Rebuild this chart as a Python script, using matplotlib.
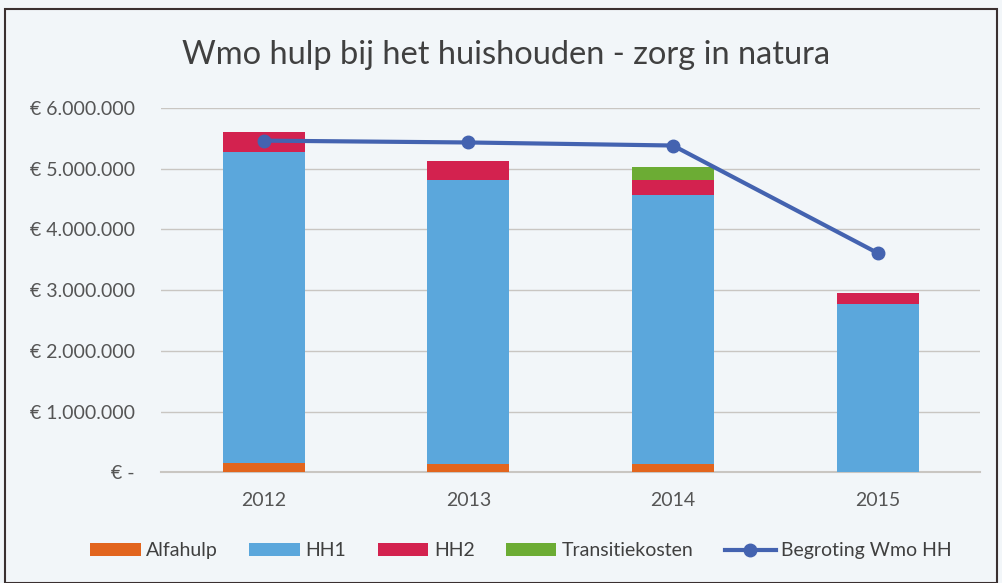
import matplotlib.pyplot as plt
from matplotlib.ticker import FuncFormatter
from matplotlib.patches import Rectangle
import numpy as np

years = ['2012', '2013', '2014', '2015']
alfahulp = [150000, 140000, 130000, 0]
hh1 = [5130000, 4680000, 4440000, 2770000]
hh2 = [330000, 300000, 250000, 180000]
transitie = [0, 0, 210000, 0]
begroting = [5460000, 5430000, 5380000, 3610000]

c_alfa = '#e2651e'
c_hh1 = '#5ba7dc'
c_hh2 = '#d3224f'
c_trans = '#6cac34'
c_line = '#4463b0'
bg = '#f2f6f9'

plt.rcParams['font.family'] = ['Lato', 'DejaVu Sans']

fig = plt.figure(figsize=(10.02, 5.83), dpi=100, facecolor=bg)
ax = fig.add_axes([0.161, 0.190, 0.817, 0.625], facecolor=bg)

x = np.arange(len(years))
w = 0.4
b = np.zeros(len(years))
for vals, col, lab in [(alfahulp, c_alfa, 'Alfahulp'), (hh1, c_hh1, 'HH1'),
                       (hh2, c_hh2, 'HH2'), (transitie, c_trans, 'Transitiekosten')]:
    ax.bar(x, vals, w, bottom=b, color=col, label=lab, zorder=2)
    b += np.array(vals)

ax.plot(x, begroting, color=c_line, lw=3, marker='o', ms=9, label='Begroting Wmo HH', zorder=3)

ax.set_xlim(-0.5, 3.5)
ax.set_ylim(0, 6000000)
ax.set_yticks(np.arange(0, 6000001, 1000000))
ax.yaxis.set_major_formatter(FuncFormatter(
    lambda v, p: '€ -' if v == 0 else '€ ' + f'{int(v):,}'.replace(',', '.')))
ax.set_xticks(x)
ax.set_xticklabels(years)
ax.grid(axis='y', color='#c9c6c2', lw=1, zorder=0)
ax.axhline(0, color='#c9c6c2', lw=1.5, zorder=1, clip_on=False)
for s in ax.spines.values():
    s.set_visible(False)
ax.tick_params(axis='y', length=0, pad=19, labelsize=14, labelcolor='#555555')
ax.tick_params(axis='x', length=0, pad=14, labelsize=14, labelcolor='#555555')

fig.text(0.505, 0.905, 'Wmo hulp bij het huishouden - zorg in natura', ha='center',
         va='center', fontsize=23.5, color='#404040')

h, l = ax.get_legend_handles_labels()
order = [1, 2, 3, 4, 0]
fig.legend([h[i] for i in order], [l[i] for i in order], loc='center',
           bbox_to_anchor=(0.52, 0.055), ncol=5, frameon=False,
           fontsize=14, handlelength=2.6, handleheight=0.7, columnspacing=1.6,
           handletextpad=0.3, labelcolor='#404040')

fig.patches.append(Rectangle((0.005, 0.0), 0.99, 0.985, transform=fig.transFigure,
                             fill=False, edgecolor='#3a3030', lw=1.5))

fig.savefig('out.png', dpi=100, facecolor=bg)
